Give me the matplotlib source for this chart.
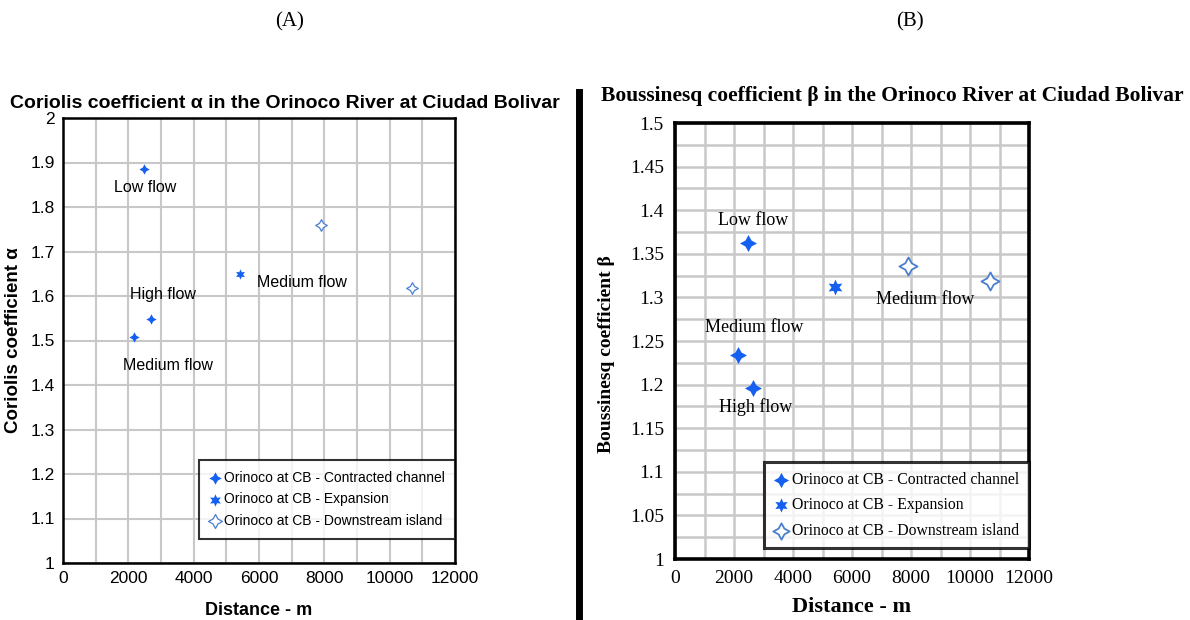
import matplotlib
matplotlib.use("Agg")
import matplotlib.pyplot as plt
from matplotlib.lines import Line2D

# data
# (A) Coriolis coefficient alpha
a_contracted_x = [2470, 2680, 2160]
a_contracted_y = [1.885, 1.548, 1.507]
a_expansion_x = [5430]
a_expansion_y = [1.650]
a_island_x = [7900, 10680]
a_island_y = [1.759, 1.617]
a_labels = ["Low flow", "Medium flow", "High flow", "Medium flow"]
a_label_x = [2500, 7320, 3070, 3200]
a_label_y = [1.843, 1.630, 1.604, 1.443]

# (B) Boussinesq coefficient beta
b_contracted_x = [2470, 2660, 2150]
b_contracted_y = [1.362, 1.196, 1.234]
b_expansion_x = [5425]
b_expansion_y = [1.312]
b_island_x = [7906, 10670]
b_island_y = [1.336, 1.319]
b_labels = ["Low flow", "Medium flow", "Medium flow", "High flow"]
b_label_x = [2640, 8490, 2684, 2717]
b_label_y = [1.388, 1.298, 1.265, 1.174]

series_names = ["Orinoco at CB - Contracted channel",
                "Orinoco at CB - Expansion",
                "Orinoco at CB - Downstream island"]

xticks = [0, 2000, 4000, 6000, 8000, 10000, 12000]
a_yticks = [1, 1.1, 1.2, 1.3, 1.4, 1.5, 1.6, 1.7, 1.8, 1.9, 2]
a_yticklabels = ["1", "1.1", "1.2", "1.3", "1.4", "1.5", "1.6", "1.7", "1.8", "1.9", "2"]
b_yticks = [1, 1.05, 1.1, 1.15, 1.2, 1.25, 1.3, 1.35, 1.4, 1.45, 1.5]
b_yticklabels = ["1", "1.05", "1.1", "1.15", "1.2", "1.25", "1.3", "1.35", "1.4", "1.45", "1.5"]

blue = "#1560f0"
light_blue = "#4a7fd0"
grid_c = "#c8c8c8"

sans = ["Liberation Sans", "DejaVu Sans"]
serif = ["Liberation Serif", "DejaVu Serif"]

fig = plt.figure(figsize=(11.9, 6.2), dpi=100)
W, H = 1190, 620


def px_axes(l, t, r, b):
    return fig.add_axes([l / W, 1 - b / H, (r - l) / W, (b - t) / H])


# panel letters
fig.text(290 / W, 1 - 22 / H, "(A)", family=serif, fontsize=15, ha="center", va="center")
fig.text(910 / W, 1 - 22 / H, "(B)", family=serif, fontsize=15, ha="center", va="center")

# separator bar
fig.add_artist(Line2D([578.5 / W, 578.5 / W], [0, 1 - 92 / H], color="black", lw=5,
                      transform=fig.transFigure))

# ---- (A) ----
ax1 = px_axes(63, 118, 455, 563)
ax1.set_xlim(0, 12000)
ax1.set_ylim(1, 2)
ax1.set_xticks(range(0, 12001, 1000), minor=True)
ax1.set_xticks(xticks)
ax1.set_yticks(a_yticks)
ax1.set_yticklabels(a_yticklabels)
ax1.grid(True, which="both", color=grid_c, lw=1.5)
ax1.set_axisbelow(True)
ax1.tick_params(which="both", length=0, labelsize=12.5, pad=6)
for lab in ax1.get_xticklabels() + ax1.get_yticklabels():
    lab.set_family(sans)
for s in ax1.spines.values():
    s.set_linewidth(1.8)

ax1.scatter(a_contracted_x, a_contracted_y, marker=(4, 1, 0), s=55, color=blue, lw=0,
            label=series_names[0], zorder=3)
ax1.scatter(a_expansion_x, a_expansion_y, marker=(6, 1, 0), s=55, color=blue, lw=0,
            label=series_names[1], zorder=3)
ax1.scatter(a_island_x, a_island_y, marker=(4, 1, 0), s=70, facecolor="white",
            edgecolor=light_blue, lw=0.9, label=series_names[2], zorder=3)
for t, x, y in zip(a_labels, a_label_x, a_label_y):
    ax1.text(x, y, t, family=sans, fontsize=11.5, ha="center", va="center")

ax1.set_xlabel("Distance - m", family=sans, fontsize=13, fontweight="bold", labelpad=11)
ax1.set_ylabel("Coriolis coefficient \u03b1", family=sans, fontsize=13.5,
               fontweight="bold", labelpad=6)
fig.text(285 / W, 1 - 104 / H,
         "Coriolis coefficient \u03b1 in the Orinoco River at Ciudad Bolivar",
         family=sans, fontsize=14, fontweight="bold", ha="center", va="center")

leg1 = ax1.legend(loc="lower right", bbox_to_anchor=(1.0, 0.055), prop={"family": sans, "size": 10},
                  frameon=True, fancybox=False, edgecolor="black", handletextpad=0.2,
                  handlelength=0.8, borderpad=0.75, labelspacing=0.55, borderaxespad=0,
                  markerscale=1.2)
leg1.get_frame().set_linewidth(1.5)

# ---- (B) ----
ax2 = px_axes(675, 123, 1029, 559)
ax2.set_xlim(0, 12000)
ax2.set_ylim(1, 1.5)
ax2.set_xticks(range(0, 12001, 1000), minor=True)
ax2.set_xticks(xticks)
ax2.set_yticks([v / 1000 for v in range(1000, 1501, 25)], minor=True)
ax2.set_yticks(b_yticks)
ax2.set_yticklabels(b_yticklabels)
ax2.grid(True, which="both", color=grid_c, lw=1.8)
ax2.set_axisbelow(True)
ax2.tick_params(which="both", length=0, labelsize=14, pad=8)
for lab in ax2.get_xticklabels() + ax2.get_yticklabels():
    lab.set_family(serif)
for s in ax2.spines.values():
    s.set_linewidth(2.6)

ax2.scatter(b_contracted_x, b_contracted_y, marker=(4, 1, 0), s=150, color=blue, lw=0,
            label=series_names[0], zorder=3)
ax2.scatter(b_expansion_x, b_expansion_y, marker=(6, 1, 0), s=130, color=blue, lw=0,
            label=series_names[1], zorder=3)
ax2.scatter(b_island_x, b_island_y, marker=(4, 1, 0), s=170, facecolor="white",
            edgecolor=light_blue, lw=1.3, label=series_names[2], zorder=3)
for t, x, y in zip(b_labels, b_label_x, b_label_y):
    ax2.text(x, y, t, family=serif, fontsize=13, ha="center", va="center")

ax2.set_xlabel("Distance - m", family=serif, fontsize=16, fontweight="bold", labelpad=7)
ax2.set_ylabel("Boussinesq coefficient \u03b2", family=serif, fontsize=14,
               fontweight="bold")
ax2.yaxis.set_label_coords(-0.17, 0.47)
fig.text(892 / W, 1 - 96 / H,
         "Boussinesq coefficient \u03b2 in the Orinoco River at Ciudad Bolivar",
         family=serif, fontsize=15.5, fontweight="bold", ha="center", va="center")

leg2 = ax2.legend(loc="lower right", bbox_to_anchor=(1.0, 0.025), prop={"family": serif, "size": 11.3},
                  frameon=True, fancybox=False, edgecolor="black", handletextpad=0.2,
                  handlelength=1.0, borderpad=0.6, labelspacing=0.6, borderaxespad=0,
                  markerscale=0.9)
leg2.get_frame().set_linewidth(2.2)

fig.savefig("out.png", dpi=100, facecolor="white")
